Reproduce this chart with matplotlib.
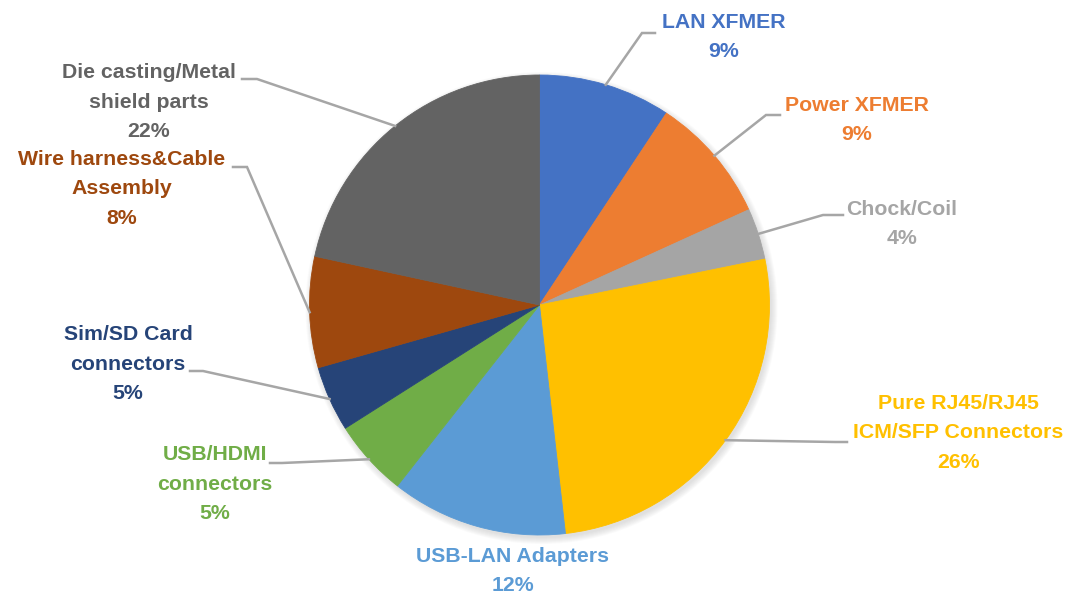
import numpy as np
import matplotlib.pyplot as plt
from matplotlib.patches import Circle

plt.rcParams['font.family'] = ['Liberation Sans', 'DejaVu Sans']

# Data
names = ['LAN XFMER', 'Power XFMER', 'Chock/Coil', 'Pure RJ45/RJ45\nICM/SFP Connectors',
         'USB-LAN Adapters', 'USB/HDMI\nconnectors', 'Sim/SD Card\nconnectors',
         'Wire harness&Cable\nAssembly', 'Die casting/Metal\nshield parts']
shares = [9.3, 8.9, 3.6, 26.4, 12.4, 5.4, 4.6, 7.8, 21.6]
colors = ['#4472C4', '#ED7D31', '#A5A5A5', '#FFC000', '#5B9BD5',
          '#70AD47', '#264478', '#9E480E', '#636363']

# Layout (pixel coords, y measured from top)
W, H = 1068, 597
cx, cy, r = 539.5, 305, 230
label_xy = [(724, 37), (857, 120), (902, 224), (958, 433), (513, 571),
            (215, 484), (128, 364), (122, 189), (149, 102)]
# elbow point, end point of each leader line (None = no line)
leaders = [((642, 33), (655, 33)), ((766, 115), (780, 115)), ((823, 215), (843, 215)),
           ((835, 442), (847, 442)), None, ((282, 463), (270, 463)),
           ((203, 371), (190, 371)), ((247, 167), (233, 167)), ((257, 79), (242, 79))]

fig = plt.figure(figsize=(W / 100, H / 100), dpi=100)
ax = fig.add_axes([0, 0, 1, 1])

# soft shadow
for k in range(7):
    ax.add_patch(Circle((cx + 2, H - cy - 3), r + k, color='#808080', alpha=0.035,
                        lw=0, zorder=0))

wedges, _ = ax.pie(shares, colors=colors, startangle=90, counterclock=False,
                   center=(cx, H - cy), radius=r, frame=True,
                   wedgeprops=dict(linewidth=0))
for w in wedges:
    w.set_edgecolor(w.get_facecolor())
    w.set_linewidth(0.6)
ax.set_xlim(0, W)
ax.set_ylim(0, H)
ax.set_aspect('equal')
ax.axis('off')

for w, name, v, col, (lx, ly), ld in zip(wedges, names, shares, colors, label_xy, leaders):
    ax.text(lx, H - ly, f'{name}\n{v:.0f}%', color=col, fontsize=15.3, fontweight='bold',
            ha='center', va='center', multialignment='center', linespacing=1.72)
    if ld is None:
        continue
    mid = np.deg2rad((w.theta1 + w.theta2) / 2)
    sx, sy = cx + r * np.cos(mid), H - cy + r * np.sin(mid)
    (ex, ey), (fx, fy) = ld
    ax.plot([sx, ex, fx], [sy, H - ey, H - fy], color='#A6A6A6', lw=1.8,
            solid_joinstyle='miter', zorder=3)

fig.savefig('out.png', dpi=100, facecolor='white')
